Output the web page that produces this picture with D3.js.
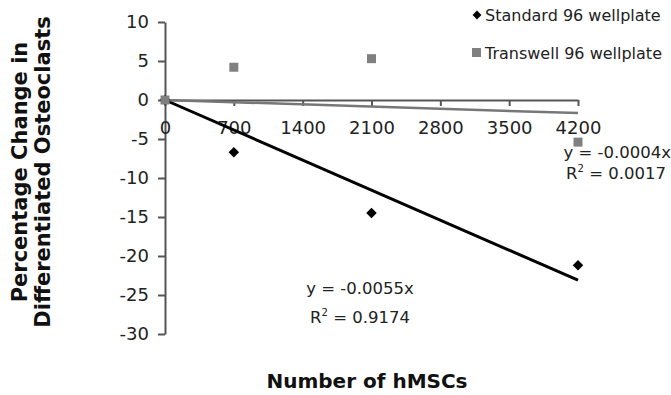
<!DOCTYPE html>
<html>
<head>
<meta charset="utf-8">
<script src="https://cdn.jsdelivr.net/npm/d3@7"></script>
<style>
  body { margin: 0; background: #fff; }
  svg { font-family: "DejaVu Sans", Verdana, sans-serif; }
</style>
</head>
<body>
<svg id="chart" width="671" height="395"></svg>
<script>
var cells = [0, 700, 2100, 4200];
var standard = [0, -6.7, -14.5, -21.2];
var transwell = [0, 4.2, 5.3, -5.4];
var slopes = { standard: -0.0055, transwell: -0.0004 };
var xTicks = [0, 700, 1400, 2100, 2800, 3500, 4200];
var yTicks = [10, 5, 0, -5, -10, -15, -20, -25, -30];

var svg = d3.select('#chart');

var scX = d3.scaleLinear().domain([0, 4200]).range([165, 578]);
var scY = d3.scaleLinear().domain([-30, 10]).range([334, 22]);

var axisColor = '#555';

// y axis
var gy = svg.append('g')
    .attr('transform', 'translate(' + scX(0) + ',0)')
    .call(d3.axisLeft(scY).tickValues(yTicks).tickSize(7).tickSizeOuter(0)
        .tickFormat(d => d < 0 ? '-' + Math.abs(d) : d));
gy.select('.domain').attr('stroke', axisColor).attr('stroke-width', 2);
gy.selectAll('.tick line').attr('stroke', axisColor).attr('stroke-width', 2);
gy.selectAll('.tick text').attr('font-size', 18).attr('fill', '#222')
    .attr('font-family', '"DejaVu Sans", sans-serif').attr('x', -16);

// x axis at y = 0
var gx = svg.append('g')
    .attr('transform', 'translate(0,' + scY(0) + ')')
    .call(d3.axisBottom(scX).tickValues(xTicks).tickSize(6).tickSizeOuter(0)
        .tickFormat(d => d));
gx.select('.domain').attr('stroke', axisColor).attr('stroke-width', 2);
gx.selectAll('.tick line').attr('stroke', axisColor).attr('stroke-width', 2);
gx.selectAll('.tick text').attr('font-size', 18).attr('fill', '#222')
    .attr('font-family', '"DejaVu Sans", sans-serif').attr('y', 21);

// trend lines
var line = d3.line().x(d => scX(d[0])).y(d => scY(d[1]));
svg.append('path')
    .attr('d', line([[0, 0], [4200, slopes.standard * 4200]]))
    .attr('stroke', '#000').attr('stroke-width', 3).attr('fill', 'none');
svg.append('path')
    .attr('d', line([[0, 0], [4200, slopes.transwell * 4200]]))
    .attr('stroke', '#777').attr('stroke-width', 2.5).attr('fill', 'none');

// points
var diamond = d3.symbol().type(d3.symbolDiamond2).size(70);
svg.selectAll('.std').data(standard).enter().append('path')
    .attr('class', 'std')
    .attr('d', diamond)
    .attr('transform', (d, i) => 'translate(' + scX(cells[i]) + ',' + scY(d) + ')')
    .attr('fill', '#000');

svg.selectAll('.tw').data(transwell).enter().append('rect')
    .attr('class', 'tw')
    .attr('x', (d, i) => scX(cells[i]) - 4.5)
    .attr('y', d => scY(d) - 4.5)
    .attr('width', 9).attr('height', 9)
    .attr('fill', '#808080');

// legend
var lg = svg.append('g').attr('font-size', 16).attr('fill', '#222');
lg.append('path').attr('d', d3.symbol().type(d3.symbolDiamond2).size(50))
    .attr('transform', 'translate(477,15)').attr('fill', '#000');
lg.append('text').attr('x', 485).attr('y', 21).text('Standard 96 wellplate');
lg.append('rect').attr('x', 472).attr('y', 48).attr('width', 9).attr('height', 9)
    .attr('fill', '#808080');
lg.append('text').attr('x', 485).attr('y', 59).text('Transwell 96 wellplate');

// equations
var eq = svg.append('g').attr('font-size', 16.5).attr('fill', '#222');
eq.append('text').attr('x', 360).attr('y', 294).attr('text-anchor', 'middle')
    .text('y = -0.0055x');
var r1 = eq.append('text').attr('x', 360).attr('y', 323).attr('text-anchor', 'middle');
r1.append('tspan').text('R');
r1.append('tspan').attr('font-size', 10).attr('dy', -7).text('2');
r1.append('tspan').attr('dy', 7).text(' = 0.9174');

eq.append('text').attr('x', 671).attr('y', 158).attr('text-anchor', 'end')
    .text('y = -0.0004x');
var r2 = eq.append('text').attr('x', 666).attr('y', 179).attr('text-anchor', 'end');
r2.append('tspan').text('R');
r2.append('tspan').attr('font-size', 10).attr('dy', -7).text('2');
r2.append('tspan').attr('dy', 7).text(' = 0.0017');

// axis titles
svg.append('text')
    .attr('x', 367).attr('y', 388).attr('text-anchor', 'middle')
    .attr('font-size', 20).attr('font-weight', 'bold').attr('fill', '#111')
    .text('Number of hMSCs');

var yt = svg.append('text')
    .attr('transform', 'translate(0,172) rotate(-90)')
    .attr('text-anchor', 'middle')
    .attr('font-size', 21).attr('font-weight', 'bold').attr('fill', '#111');
yt.append('tspan').attr('x', 0).attr('y', 27).text('Percentage Change in');
yt.append('tspan').attr('x', 0).attr('y', 50).text('Differentiated Osteoclasts');
</script>
</body>
</html>
